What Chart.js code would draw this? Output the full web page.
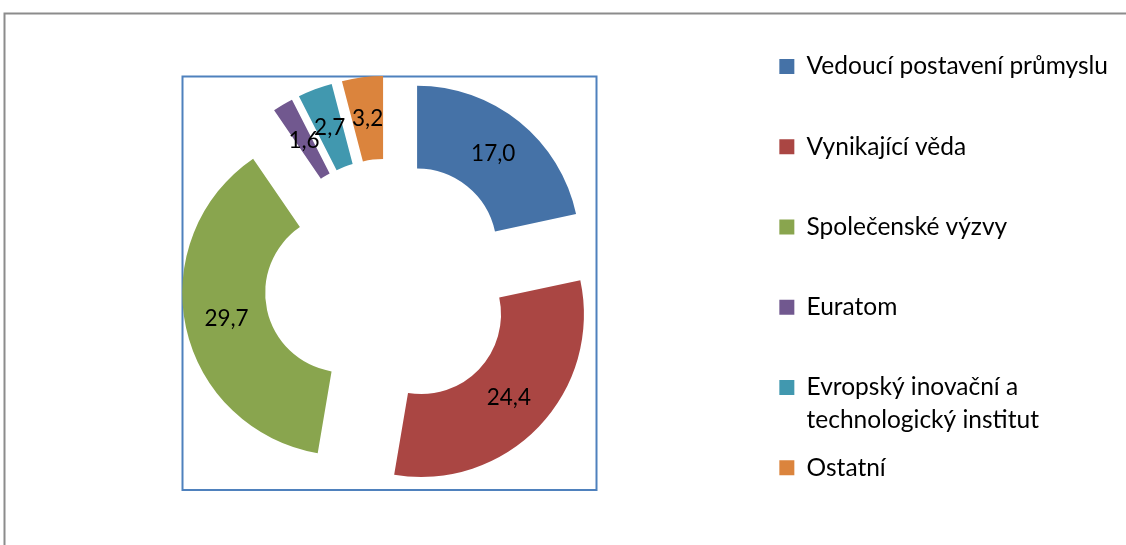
<!DOCTYPE html>
<html lang="cs">
<head>
<meta charset="UTF-8">
<title>Rozdělení rozpočtu</title>
<script src="https://cdn.jsdelivr.net/npm/chart.js"></script>
<style>
    body { margin: 0; background: #fff; }
    #wrap { position: relative; width: 1126px; height: 545px; }
</style>
</head>
<body>
<div id="wrap"><canvas id="myChart"></canvas></div>

<script>
// data (podíl v %)
const categories = ['Vedoucí postavení průmyslu', 'Vynikající věda', 'Společenské výzvy', 'Euratom',
                    'Evropský inovační a technologický institut', 'Ostatní'];
const values = [17.0, 24.4, 29.7, 1.6, 2.7, 3.2];
const colors = ['#4572A7', '#AA4643', '#89A54E', '#71588F', '#4198AF', '#DB843D'];

const EXPLODE = 45; // odsunutí výsečí od středu (px)

// zalomení dlouhých popisků legendy podle počtu znaků
const wrapText = (text, max) => {
    const lines = [];
    let line = '';
    text.split(' ').forEach((w) => {
        if (line && (line + ' ' + w).length > max) {
            lines.push(line);
            line = w;
        } else {
            line = line ? line + ' ' + w : w;
        }
    });
    lines.push(line);
    return lines;
};

// rámečky: šedý okraj grafu a modrý okraj oblasti výsečí
const framePlugin = {
    id: 'frames',
    beforeDraw(chart) {
        const ctx = chart.ctx;
        ctx.save();
        ctx.lineWidth = 2;
        ctx.strokeStyle = '#8c8c8c';
        ctx.strokeRect(4.5, 13.5, 1200, 600);
        ctx.strokeStyle = '#4F81BD';
        ctx.strokeRect(182.5, 76.5, 414, 413.5);
        ctx.restore();
    }
};

// vysunuté výseče + hodnoty
const explodePlugin = {
    id: 'explode',
    beforeDatasetDraw(chart, args) {
        const ctx = chart.ctx;
        const arcs = args.meta.data;
        const shift = (arc) => {
            const mid = (arc.startAngle + arc.endAngle) / 2;
            return [Math.cos(mid) * EXPLODE, Math.sin(mid) * EXPLODE];
        };
        arcs.forEach((arc) => {
            const [dx, dy] = shift(arc);
            ctx.save();
            ctx.translate(dx, dy);
            arc.draw(ctx);
            ctx.restore();
        });
        ctx.save();
        ctx.fillStyle = '#000';
        ctx.font = '22.5px Lato';
        ctx.textAlign = 'center';
        ctx.textBaseline = 'middle';
        arcs.forEach((arc, i) => {
            const [dx, dy] = shift(arc);
            const p = arc.tooltipPosition();
            ctx.fillText(values[i].toFixed(1).replace('.', ','), p.x + dx, p.y + dy);
        });
        ctx.restore();
        return false;
    }
};

const ctx = document.getElementById('myChart').getContext('2d');
const myChart = new Chart(ctx, {
    type: 'doughnut',
    data: {
        labels: categories,
        datasets: [{
            data: values,
            backgroundColor: colors,
            borderWidth: 0
        }]
    },
    options: {
        responsive: true,
        maintainAspectRatio: false,
        animation: false,
        radius: 162.6,
        cutout: '49%',
        layout: { padding: { left: 14, right: 8, top: 38.5, bottom: 17 } },
        plugins: {
            tooltip: { enabled: false },
            legend: {
                position: 'right',
                align: 'start',
                labels: {
                    boxWidth: 15,
                    boxHeight: 15,
                    padding: 15.7,
                    color: '#000',
                    font: { family: 'Lato', size: 24.5, lineHeight: 1.318 },
                    generateLabels(chart) {
                        const items = Chart.overrides.doughnut.plugins.legend.labels.generateLabels(chart);
                        return items.map((item, i) => {
                            const lines = wrapText(item.text, 26);
                            // každá položka kromě poslední zabírá dva řádky -> stejné rozestupy
                            if (i < items.length - 1 && lines.length < 2) lines.push('');
                            item.text = lines;
                            return item;
                        });
                    }
                }
            }
        }
    },
    plugins: [framePlugin, explodePlugin]
});
</script>
</body>
</html>
